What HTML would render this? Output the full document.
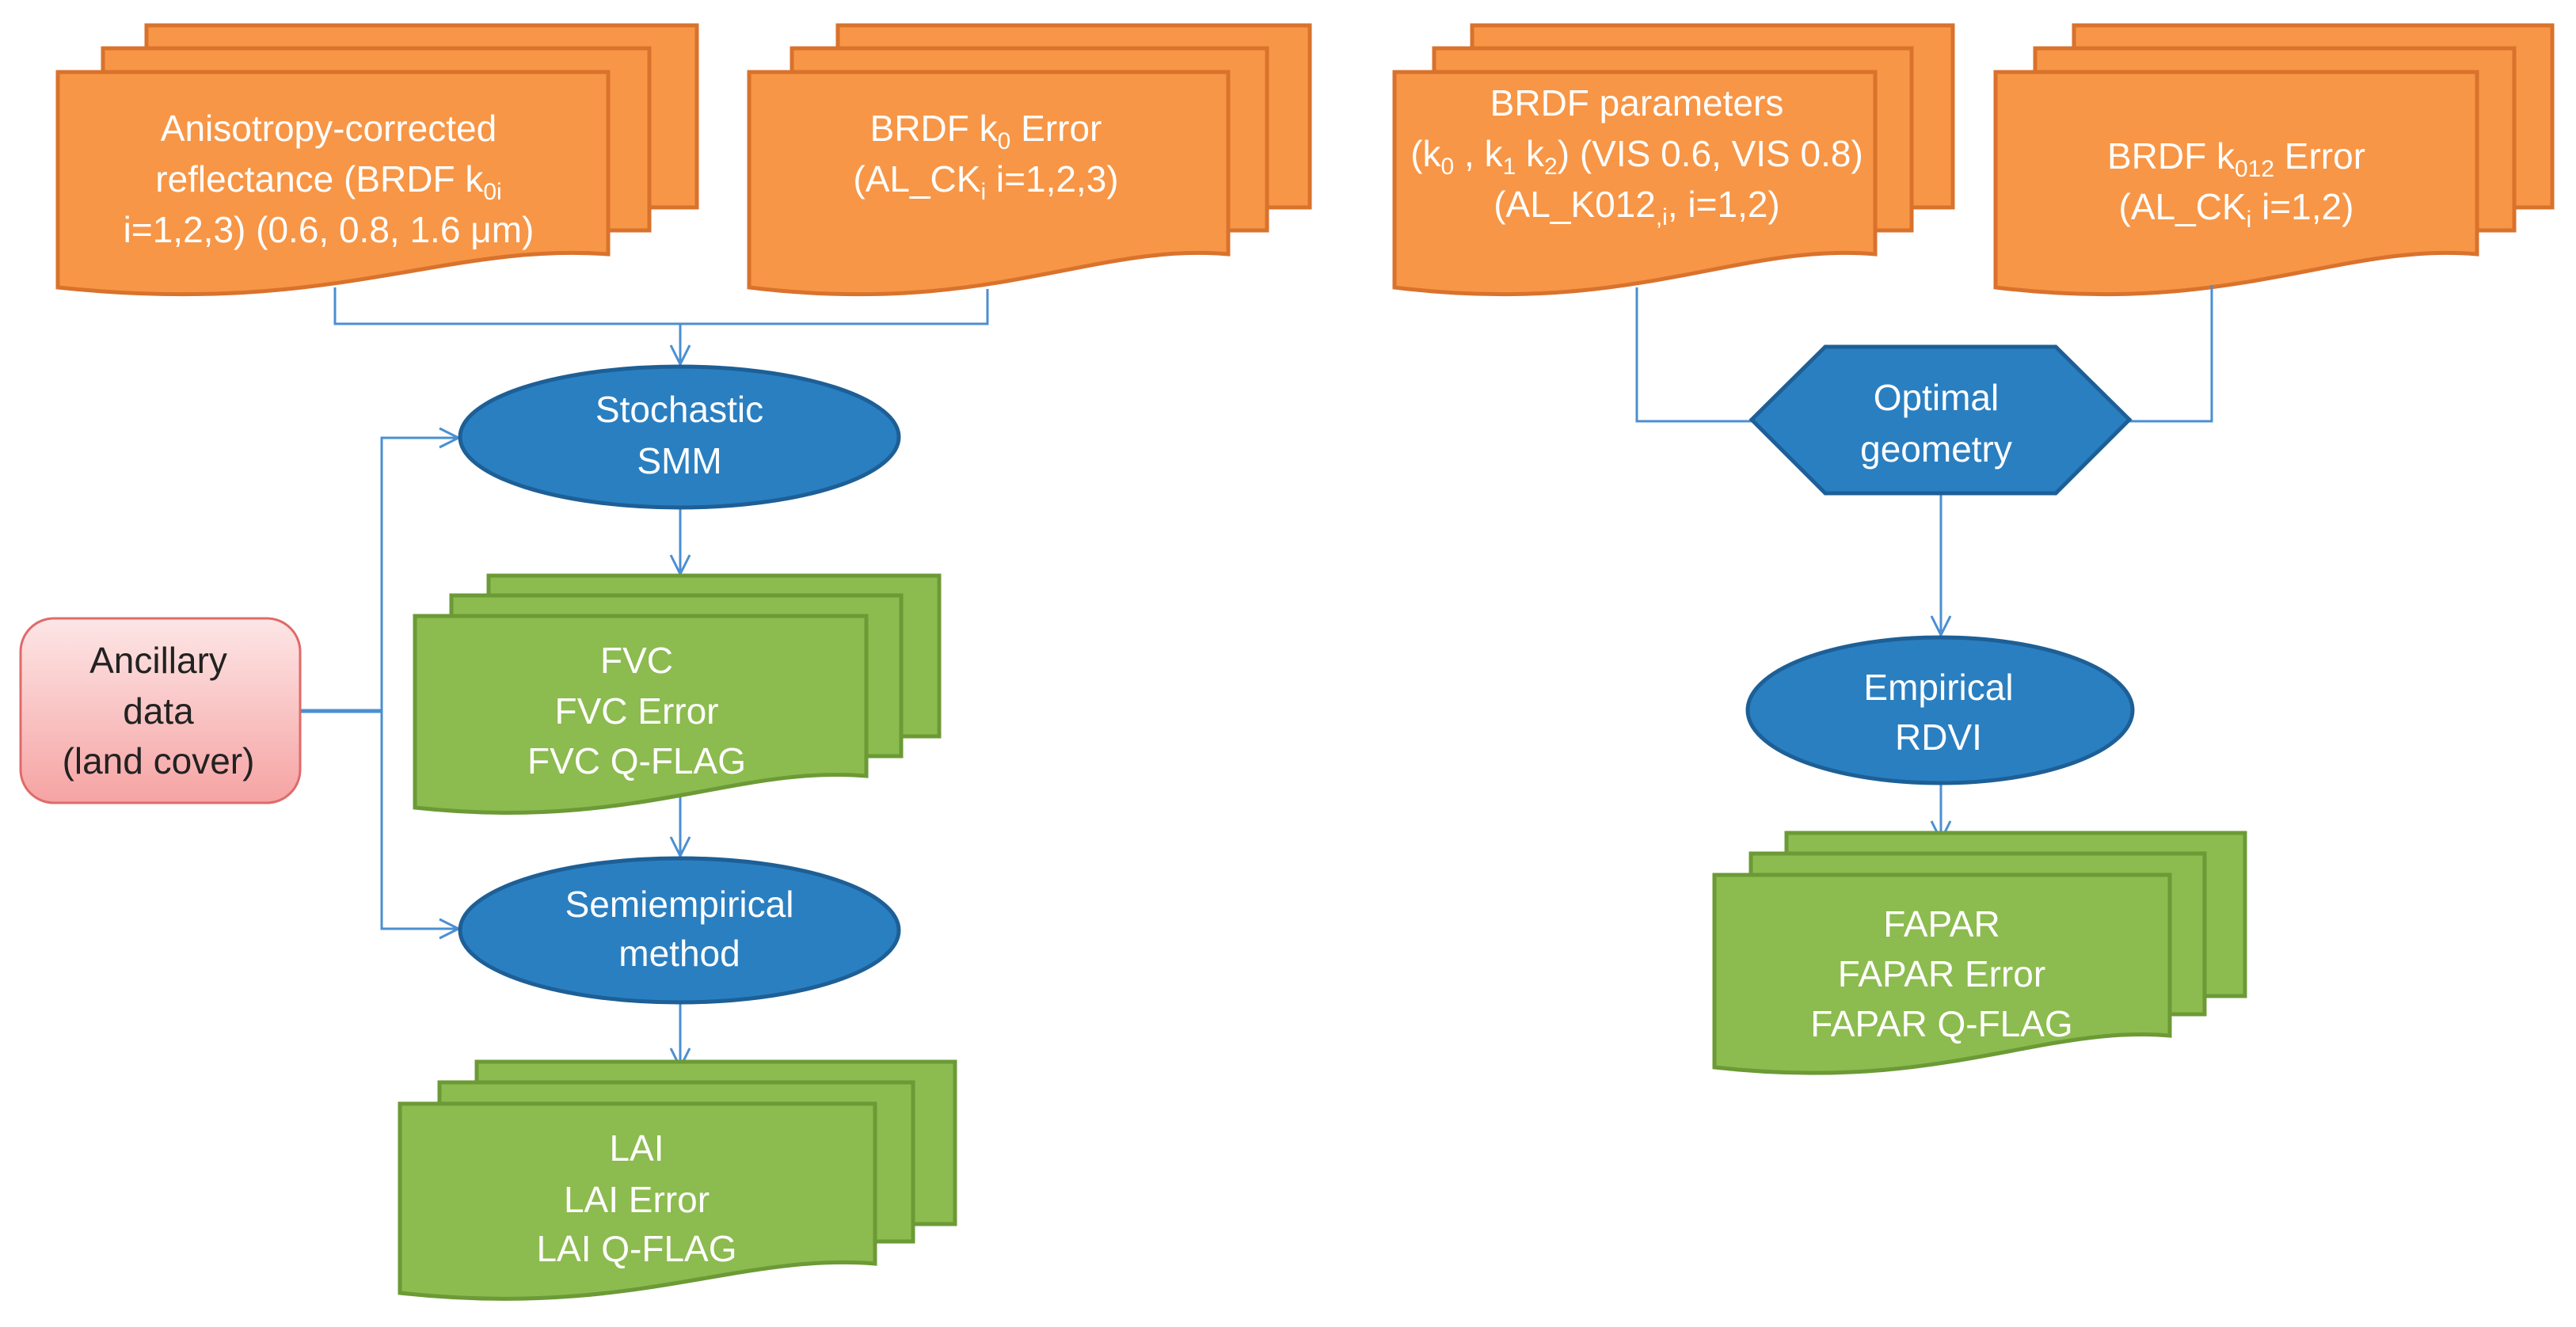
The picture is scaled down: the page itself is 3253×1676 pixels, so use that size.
<!DOCTYPE html>
<html><head><meta charset="utf-8"><style>
html,body{margin:0;padding:0;background:#fff}
svg{display:block}
text{font-family:"Liberation Sans",sans-serif;font-size:46px;fill:#fff;text-anchor:middle}
.dk{fill:#222}
.sub{font-size:30px}
.o{fill:#f79646;stroke:#d9722c;stroke-width:5}
.g{fill:#8cbb4f;stroke:#6b9a36;stroke-width:5}
.b{fill:#2a7fc1;stroke:#1d5f96;stroke-width:5}
.c{fill:none;stroke:#4b8fd2;stroke-width:3}
</style></head><body>
<svg width="3253" height="1676" viewBox="0 0 3253 1676" xmlns="http://www.w3.org/2000/svg">
<defs>
<linearGradient id="pk" x1="0" y1="0" x2="0" y2="1"><stop offset="0" stop-color="#fde6e6"/><stop offset="1" stop-color="#f6a3a3"/></linearGradient>
<marker id="ar" markerWidth="34" markerHeight="34" refX="26" refY="14" orient="auto" markerUnits="userSpaceOnUse"><path d="M2,2 L26,14 L2,26" fill="none" stroke="#4b8fd2" stroke-width="3"/></marker>
</defs>

<!-- Box1 -->
<rect class="o" x="185" y="32" width="695" height="230"/>
<rect class="o" x="130" y="61" width="690" height="230"/>
<path class="o" d="M73,91 H768 V321 C560,306 420,400 73,363 Z"/>
<text x="415" y="178">Anisotropy-corrected</text>
<text x="415" y="242">reflectance (BRDF k<tspan class="sub" dy="10">0i</tspan></text>
<text x="415" y="306">i=1,2,3)  (0.6, 0.8, 1.6 μm)</text>

<!-- Box2 -->
<rect class="o" x="1058" y="32" width="596" height="230"/>
<rect class="o" x="1000" y="61" width="600" height="230"/>
<path class="o" d="M946,91 H1551 V321 C1380,306 1250,400 946,363 Z"/>
<text x="1245" y="178">BRDF k<tspan class="sub" dy="10">0</tspan><tspan dy="-10"> Error</tspan></text>
<text x="1245" y="242">(AL_CK<tspan class="sub" dy="10">i</tspan><tspan dy="-10"> i=1,2,3)</tspan></text>

<!-- Box3 -->
<rect class="o" x="1859" y="32" width="607" height="230"/>
<rect class="o" x="1811" y="61" width="603" height="230"/>
<path class="o" d="M1761,91 H2368 V321 C2195,306 2060,400 1761,363 Z"/>
<text x="2067" y="146">BRDF parameters</text>
<text x="2067" y="210">(k<tspan class="sub" dy="10">0</tspan><tspan dy="-10"> , k</tspan><tspan class="sub" dy="10">1</tspan><tspan dy="-10"> k</tspan><tspan class="sub" dy="10">2</tspan><tspan dy="-10">)  (VIS 0.6, VIS 0.8)</tspan></text>
<text x="2067" y="274">(AL_K012<tspan class="sub" dy="10">,i</tspan><tspan dy="-10">,  i=1,2)</tspan></text>

<!-- Box4 -->
<rect class="o" x="2619" y="32" width="604" height="230"/>
<rect class="o" x="2570" y="61" width="605" height="230"/>
<path class="o" d="M2520,91 H3128 V321 C2955,306 2820,400 2520,363 Z"/>
<text x="2824" y="213">BRDF k<tspan class="sub" dy="10">012</tspan><tspan dy="-10"> Error</tspan></text>
<text x="2824" y="277">(AL_CK<tspan class="sub" dy="10">i</tspan><tspan dy="-10"> i=1,2)</tspan></text>

<!-- connectors left -->
<path class="c" d="M423,363 V409 H1247 V365"/>
<path class="c" d="M859,409 V460" marker-end="url(#ar)"/>
<path class="c" d="M859,641 V725" marker-end="url(#ar)"/>
<path class="c" d="M859,1000 V1081" marker-end="url(#ar)"/>
<path class="c" d="M859,1266 V1348" marker-end="url(#ar)"/>
<path class="c" d="M482,1173 V553 H579" marker-end="url(#ar)"/>
<path class="c" d="M482,1000 V1173 H579" marker-end="url(#ar)"/>
<path d="M379,898 H482" stroke="#4b8fd2" stroke-width="5"/>

<!-- Stochastic -->
<ellipse class="b" cx="858" cy="552" rx="277" ry="89"/>
<text x="858" y="533">Stochastic</text>
<text x="858" y="598">SMM</text>

<!-- FVC -->
<rect class="g" x="617" y="727" width="569" height="203"/>
<rect class="g" x="570" y="752" width="568" height="203"/>
<path class="g" d="M524,778 H1094 V980 C930,966 800,1050 524,1020 Z"/>
<text x="804" y="850">FVC</text>
<text x="804" y="914">FVC Error</text>
<text x="804" y="977">FVC Q-FLAG</text>

<!-- Ancillary -->
<rect x="26" y="781" width="353" height="233" rx="42" fill="url(#pk)" stroke="#e06a6a" stroke-width="3"/>
<text class="dk" x="200" y="850">Ancillary</text>
<text class="dk" x="200" y="914">data</text>
<text class="dk" x="200" y="977">(land cover)</text>

<!-- Semiempirical -->
<ellipse class="b" cx="858" cy="1175" rx="277" ry="91"/>
<text x="858" y="1158">Semiempirical</text>
<text x="858" y="1220">method</text>

<!-- LAI -->
<rect class="g" x="602" y="1341" width="604" height="205"/>
<rect class="g" x="555" y="1367" width="598" height="201"/>
<path class="g" d="M505,1394 H1105 V1596 C930,1582 800,1665 505,1633 Z"/>
<text x="804" y="1466">LAI</text>
<text x="804" y="1531">LAI Error</text>
<text x="804" y="1593">LAI Q-FLAG</text>

<!-- right connectors -->
<path class="c" d="M2067,363 V532 H2212"/>
<path class="c" d="M2793,360 V532 H2689"/>
<path class="c" d="M2451,623 V802" marker-end="url(#ar)"/>
<path class="c" d="M2451,989 V1061" marker-end="url(#ar)"/>

<!-- Optimal geometry -->
<polygon class="b" points="2212,530 2305,438 2596,438 2689,530 2596,623 2305,623"/>
<text x="2445" y="518">Optimal</text>
<text x="2445" y="583">geometry</text>

<!-- Empirical -->
<ellipse class="b" cx="2450" cy="897" rx="243" ry="92"/>
<text x="2448" y="884">Empirical</text>
<text x="2448" y="947">RDVI</text>

<!-- FAPAR -->
<rect class="g" x="2256" y="1052" width="579" height="206"/>
<rect class="g" x="2211" y="1078" width="573" height="203"/>
<path class="g" d="M2165,1105 H2740 V1308 C2580,1294 2450,1380 2165,1348 Z"/>
<text x="2452" y="1183">FAPAR</text>
<text x="2452" y="1246">FAPAR  Error</text>
<text x="2452" y="1309">FAPAR  Q-FLAG</text>
</svg>
</body></html>
